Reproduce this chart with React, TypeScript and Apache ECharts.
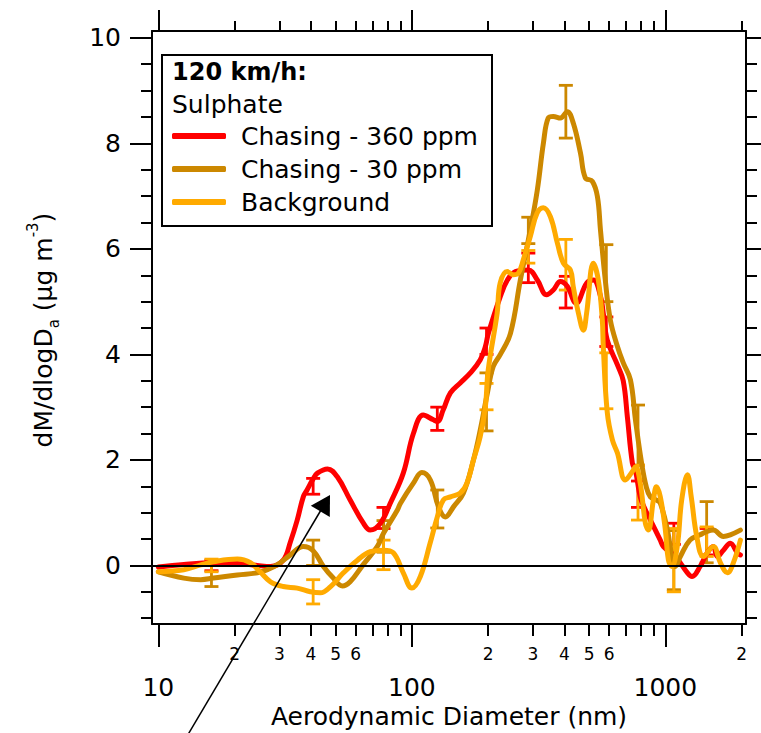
import React, { useEffect, useRef } from 'react';
import * as echarts from 'echarts';

const FONT = 'DejaVu Sans';

// Aerodynamic diameter (nm) and dM/dlogDa (µg m-3) for each series
const redDiam = [10, 12.6, 16.5, 20.5, 24.6, 27.7, 31.1, 33.2, 35.3, 37.3, 38.6, 40.8, 42.4, 46.5, 50.8, 57.1, 64.4, 68.5, 75.2, 82.2, 92.5, 101.4, 110.9, 121.6, 126.2, 133, 141.9, 155.2, 170.2, 186.2, 195, 200.4, 223.4, 238.2, 255.9, 288.4, 312.6, 340, 361.4, 385.5, 410.2, 445, 489, 520, 555, 569, 590, 647, 682, 708, 741, 762, 796, 834, 873, 955, 982, 1094, 1222, 1274, 1371, 1462, 1545, 1603, 1694, 1803, 1923, 1977];
const redVal = [-0.03, 0.02, 0.05, 0.04, 0.0, -0.02, 0.1, 0.45, 0.86, 1.3, 1.43, 1.64, 1.75, 1.83, 1.68, 1.24, 0.8, 0.67, 0.8, 1.18, 1.75, 2.5, 2.85, 2.76, 2.73, 2.95, 3.27, 3.46, 3.65, 3.9, 4.15, 4.4, 5.1, 5.41, 5.57, 5.6, 5.41, 5.13, 5.22, 5.38, 5.29, 4.97, 5.35, 5.41, 5.1, 4.78, 4.27, 3.8, 3.5, 2.82, 1.94, 1.8, 1.3, 1.05, 0.86, 0.48, 0.36, 0.17, -0.14, -0.21, -0.02, 0.24, 0.36, 0.17, 0.29, 0.42, 0.24, 0.2];

const brownDiam = [10, 12.6, 14.7, 16.5, 20.5, 24.6, 26.9, 29.4, 33.2, 37.3, 40.8, 44.8, 49, 53.2, 57.1, 64.4, 73.1, 77.3, 87.7, 90.2, 101.4, 109.5, 118.3, 127.4, 135.5, 145.9, 159.6, 175, 186.2, 198.6, 209.4, 223.4, 244.9, 267.9, 293.1, 312.6, 330.4, 345.1, 361.4, 385.5, 410.2, 433.5, 462.4, 483.1, 515.2, 539.5, 554.6, 579.4, 606.7, 647.1, 682.3, 728, 762, 806, 841, 873, 922, 955, 1019, 1067, 1094, 1146, 1250, 1371, 1455, 1545, 1694, 1803, 1977];
const brownVal = [-0.12, -0.24, -0.27, -0.24, -0.18, -0.14, -0.08, 0.01, 0.2, 0.36, 0.28, -0.02, -0.24, -0.39, -0.31, 0.02, 0.36, 0.61, 1.05, 1.18, 1.56, 1.76, 1.62, 1.11, 0.92, 1.11, 1.37, 2.0, 2.57, 3.27, 3.77, 4.0, 4.4, 5.41, 6.36, 7.12, 8.01, 8.48, 8.51, 8.48, 8.6, 8.38, 7.82, 7.35, 7.28, 6.99, 6.36, 5.41, 4.65, 4.15, 3.84, 3.52, 2.76, 1.94, 1.49, 1.3, 1.24, 1.18, 0.67, 0.1, -0.02, 0.17, 0.48, 0.58, 0.64, 0.67, 0.55, 0.58, 0.67];

const orangeDiam = [10, 12.6, 14.7, 16.5, 20.5, 23.1, 25.2, 27.7, 31.1, 35.3, 39.8, 43.6, 47.8, 53.7, 61, 68.5, 77.3, 84.5, 92.5, 100, 108, 118, 126, 133, 142, 155, 165, 175, 186, 195, 200, 217, 223, 238, 251, 263, 275, 293, 312, 330, 352, 375, 396, 422, 433, 454, 475, 489, 520, 544, 564, 569, 590, 618, 647, 695, 741, 762, 796, 834, 857, 897, 922, 955, 1000, 1028, 1060, 1114, 1160, 1222, 1265, 1330, 1413, 1545, 1648, 1758, 1854, 1977];
const orangeVal = [-0.12, -0.08, 0.01, 0.07, 0.12, 0.05, -0.12, -0.31, -0.4, -0.43, -0.5, -0.52, -0.4, -0.14, 0.1, 0.26, 0.29, 0.24, -0.14, -0.43, -0.21, 0.42, 0.92, 1.24, 1.3, 1.37, 1.56, 2.0, 2.44, 3.01, 3.7, 4.78, 5.35, 5.57, 5.51, 5.54, 5.79, 6.23, 6.68, 6.78, 6.61, 6.11, 5.73, 5.6, 5.29, 4.78, 4.46, 4.78, 5.73, 5.41, 4.65, 4.15, 2.9, 2.38, 2.13, 1.62, 1.78, 1.87, 1.56, 0.8, 0.67, 1.24, 1.49, 1.3, 0.67, 0.1, -0.02, 0.36, 1.24, 1.72, 1.3, 0.55, 0.17, 0.36, 0.05, -0.14, 0.05, 0.48];

// error bars: diameters, centre values, half-widths
const barDiam = [16.2, 40.8, 77.3, 126, 197, 288, 405, 585, 780, 1080, 1455];
const redBarMid = [0.0, 1.5, 0.9, 2.78, 4.25, 5.64, 5.18, 4.43, 1.35, 0.6, 0.45];
const redBarErr = [0.1, 0.15, 0.2, 0.22, 0.25, 0.28, 0.3, 0.28, 0.25, 0.2, 0.25];
const brownBarMid = [-0.2, 0.24, 0.55, 1.07, 3.1, 6.35, 8.6, 5.54, 2.47, 0.1, 0.63];
const brownBarErr = [0.2, 0.24, 0.3, 0.36, 0.55, 0.25, 0.5, 0.54, 0.57, 0.56, 0.58];
const orangeBarMid = [0.0, -0.5, 0.2, null, 3.2, 5.85, 5.7, 3.5, 1.38, 0.1, 0.45];
const orangeBarErr = [0.12, 0.23, 0.28, null, 0.25, 0.12, 0.48, 0.53, 0.52, 0.6, 0.28];

// axes
const X_MIN = 9.44;
const X_MAX = 2080;
const Y_MIN = -1.11;
const Y_MAX = 10.13;
const xMajorTicks = [10, 100, 1000];
const xMinorTicks = [20, 30, 40, 50, 60, 70, 80, 90, 200, 300, 400, 500, 600, 700, 800, 900, 2000];
const xMinorLabels = [20, 30, 40, 50, 60, 200, 300, 400, 500, 600, 2000];
const yMajorTicks = [0, 2, 4, 6, 8, 10];
const yMinorTicks = [-1, -0.5, 0.5, 1, 1.5, 2.5, 3, 3.5, 4.5, 5, 5.5, 6.5, 7, 7.5, 8.5, 9, 9.5];

const seriesNames = ['Chasing - 360 ppm', 'Chasing - 30 ppm', 'Background'];
const seriesColors = ['#ff0000', '#cc8800', '#ffaa00'];

const lg = (d: number) => Math.log10(d);

function pairs(d: number[], v: number[]) {
  return d.map((x, i) => [lg(x), v[i]]);
}
function bars(mid: (number | null)[], err: (number | null)[]) {
  const out: number[][] = [];
  barDiam.forEach((d, i) => {
    const m = mid[i];
    const e = err[i];
    if (m == null || e == null) return;
    out.push([lg(d), m - e, m + e]);
  });
  return out;
}

export default function App() {
  const ref = useRef<HTMLDivElement>(null);
  useEffect(() => {
    if (!ref.current) return;
    const chart = echarts.init(ref.current, undefined, { renderer: 'svg' });
    const black = '#000';
    const xBase = (extra: any) => ({
      type: 'value',
      gridIndex: 0,
      min: lg(X_MIN),
      max: lg(X_MAX),
      splitLine: { show: false },
      ...extra,
    });
    const yBase = (extra: any) => ({
      type: 'value',
      gridIndex: 0,
      min: Y_MIN,
      max: Y_MAX,
      splitLine: { show: false },
      ...extra,
    });
    const tick = (vals: number[], len: number) => ({
      show: true,
      length: len,
      customValues: vals,
      lineStyle: { color: black, width: 2 },
    });
    const axisLine = { show: true, onZero: false, lineStyle: { color: black, width: 2 } };
    const noLine = { show: false, onZero: false };
    const noLabel = { show: false };

    const errSeries = (data: number[][], color: string) => ({
      type: 'custom',
      data,
      encode: { x: 0, y: [1, 2] },
      renderItem: (_p: any, api: any) => {
        const x = api.value(0);
        const lo = api.coord([x, api.value(1)]);
        const hi = api.coord([x, api.value(2)]);
        const w = 7;
        const style = { stroke: color, lineWidth: 2.8 };
        return {
          type: 'group',
          children: [
            { type: 'line', shape: { x1: lo[0], y1: lo[1], x2: hi[0], y2: hi[1] }, style },
            { type: 'line', shape: { x1: lo[0] - w, y1: lo[1], x2: lo[0] + w, y2: lo[1] }, style },
            { type: 'line', shape: { x1: hi[0] - w, y1: hi[1], x2: hi[0] + w, y2: hi[1] }, style },
          ],
        };
      },
    });
    const lineSeries = (name: string, color: string, data: number[][]) => ({
      type: 'line',
      name,
      data,
      color,
      showSymbol: false,
      smooth: 0.4,
      lineStyle: { width: 5, color, cap: 'round', join: 'round' },
    });

    const option: any = {
      animation: false,
      backgroundColor: '#fff',
      textStyle: { fontFamily: FONT, color: black },
      grid: { left: 152, right: 15, top: 31, bottom: 109, outerBoundsMode: 'none' },
      xAxis: [
        xBase({
          position: 'bottom',
          axisLine,
          axisTick: tick(xMajorTicks.map(lg), 23),
          axisLabel: {
            customValues: xMajorTicks.map(lg),
            formatter: (v: number) => String(Math.round(Math.pow(10, v))),
            margin: 51,
            fontSize: 25,
            color: black,
            fontFamily: FONT,
          },
        }),
        xBase({
          position: 'bottom',
          axisLine: noLine,
          axisTick: tick(xMinorTicks.map(lg), 12),
          axisLabel: {
            customValues: xMinorLabels.map(lg),
            formatter: (v: number) => String(Math.round(Math.pow(10, v) / Math.pow(10, Math.floor(v + 1e-9)))),
            margin: 21,
            fontSize: 17,
            color: black,
            fontFamily: FONT,
          },
        }),
        xBase({ position: 'top', axisLine, axisTick: tick(xMajorTicks.map(lg), 21), axisLabel: noLabel }),
        xBase({ position: 'top', axisLine: noLine, axisTick: tick(xMinorTicks.map(lg), 10), axisLabel: noLabel }),
      ],
      yAxis: [
        yBase({
          position: 'left',
          axisLine,
          axisTick: tick(yMajorTicks, 22),
          axisLabel: { customValues: yMajorTicks, margin: 31, fontSize: 25, color: black, fontFamily: FONT },
        }),
        yBase({ position: 'left', axisLine: noLine, axisTick: tick(yMinorTicks, 11), axisLabel: noLabel }),
        yBase({ position: 'right', axisLine, axisTick: tick(yMajorTicks, 22), axisLabel: noLabel }),
        yBase({ position: 'right', axisLine: noLine, axisTick: tick(yMinorTicks, 11), axisLabel: noLabel }),
      ],
      legend: {
        orient: 'vertical',
        left: 167,
        top: 117,
        padding: 5,
        itemWidth: 54,
        itemHeight: 6,
        itemGap: 5,
        icon: 'roundRect',
        selectedMode: false,
        textStyle: { fontSize: 25, lineHeight: 28, fontFamily: FONT, color: black, padding: [0, 0, 0, 10] },
        data: seriesNames,
      },
      series: [
        {
          type: 'line',
          data: [],
          z: 1,
          markLine: {
            silent: true,
            symbol: 'none',
            label: { show: false },
            lineStyle: { color: black, width: 2, type: 'solid' },
            data: [{ yAxis: 0 }],
          },
        },
        lineSeries(seriesNames[0], seriesColors[0], pairs(redDiam, redVal)),
        errSeries(bars(redBarMid, redBarErr), seriesColors[0]),
        lineSeries(seriesNames[1], seriesColors[1], pairs(brownDiam, brownVal)),
        errSeries(bars(brownBarMid, brownBarErr), seriesColors[1]),
        lineSeries(seriesNames[2], seriesColors[2], pairs(orangeDiam, orangeVal)),
        errSeries(bars(orangeBarMid, orangeBarErr), seriesColors[2]),
      ],
      graphic: [
        {
          type: 'rect',
          z: 1,
          shape: { x: 162, y: 55, width: 330, height: 171 },
          style: { fill: '#fff', stroke: black, lineWidth: 2 },
        },
        {
          type: 'text',
          z: 10,
          x: 172,
          y: 72,
          style: { text: '120 km/h:', fontSize: 24, fontWeight: 'bold', fontFamily: FONT, fill: black, verticalAlign: 'middle' },
        },
        {
          type: 'text',
          z: 10,
          x: 172,
          y: 104,
          style: { text: 'Sulphate', fontSize: 25, fontFamily: FONT, fill: black, verticalAlign: 'middle' },
        },
        {
          type: 'text',
          z: 10,
          x: 43,
          y: 330,
          rotation: Math.PI / 2,
          style: {
            text: '{m|dM/dlogD}{s|a}{m| (μg m}{p|-3}{m|)}',
            align: 'center',
            verticalAlign: 'middle',
            fill: black,
            rich: {
              m: { fontSize: 25, fontFamily: FONT, fill: black, lineHeight: 36, verticalAlign: 'middle' },
              s: { fontSize: 15, fontFamily: FONT, fill: black, lineHeight: 15, verticalAlign: 'bottom' },
              p: { fontSize: 15, fontFamily: FONT, fill: black, lineHeight: 15, verticalAlign: 'top' },
            },
          },
        },
        {
          type: 'text',
          z: 10,
          x: 449,
          y: 716,
          style: { text: 'Aerodynamic Diameter (nm)', fontSize: 25, fontFamily: FONT, fill: black, align: 'center', verticalAlign: 'middle' },
        },
        {
          type: 'line',
          z: 20,
          shape: { x1: 183, y1: 743, x2: 321, y2: 510 },
          style: { stroke: black, lineWidth: 1.5 },
        },
        {
          type: 'polygon',
          z: 20,
          shape: { points: [[330, 495], [329.8, 516.9], [310.8, 505.7]] },
          style: { fill: black },
        },
      ],
    };
    chart.setOption(option);
    return () => chart.dispose();
  }, []);
  return (
    <div
      ref={ref}
      style={{ position: 'fixed', left: 0, top: 0, width: 761, height: 733, background: '#fff' }}
    />
  );
}
